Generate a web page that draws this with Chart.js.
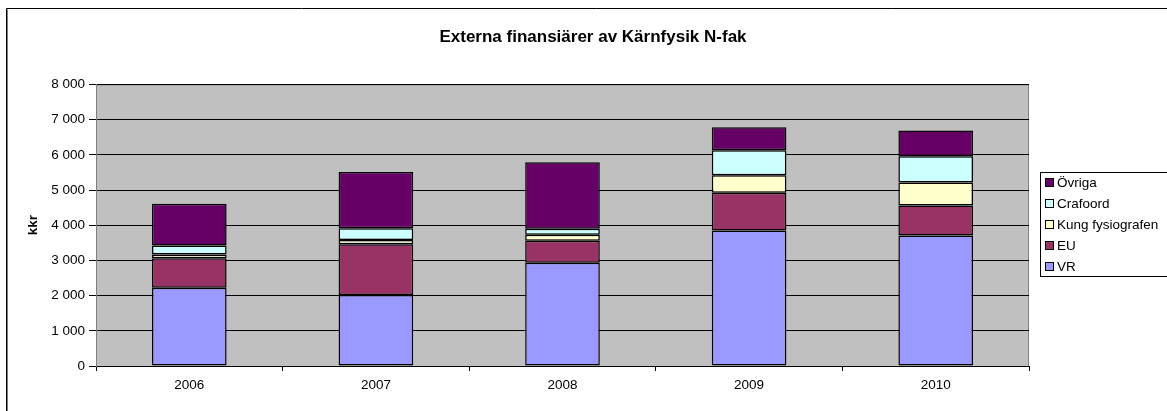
<!DOCTYPE html>
<html>
<head>
<meta charset="utf-8">
<script src="https://cdn.jsdelivr.net/npm/chart.js@4/dist/chart.umd.min.js"></script>
<style>
  html, body { margin: 0; padding: 0; background: #fff; overflow: hidden; }
  #wrap { position: absolute; left: 0; top: 0; width: 1186px; height: 411px; }
</style>
</head>
<body>
<div id="wrap"><canvas id="chart" width="1186" height="411"></canvas></div>
<script>
// data
var years = ['2006', '2007', '2008', '2009', '2010'];
var vr = [2220, 2020, 2930, 3850, 3710];
var eu = [840, 1440, 630, 1070, 850];
var kung = [110, 120, 170, 500, 650];
var crafoord = [250, 330, 170, 710, 750];
var ovriga = [1190, 1600, 1890, 650, 730];
var yMax = 8000;
var yStep = 1000;

var FONT = '"Liberation Sans", Arial, sans-serif';

// background of plot area + outer frame
var bgPlugin = {
    id: 'bg',
    afterLayout: function(chart) {
        // center the title over the whole frame, not just the plot
        var t = chart.titleBlock;
        if (t) { t.left = 0; t.right = chart.width; t.width = chart.width; }
    },
    beforeDraw: function(chart) {
        var c = chart.ctx, a = chart.chartArea;
        c.save();
        c.fillStyle = '#C0C0C0';
        c.fillRect(a.left, a.top, a.right - a.left, a.bottom - a.top);
        c.strokeStyle = '#808080';
        c.lineWidth = 1;
        c.strokeRect(a.left + 0.5, a.top + 0.5, a.right - a.left - 1, a.bottom - a.top);
        // outer frame
        c.strokeStyle = '#000';
        c.beginPath();
        c.moveTo(6.5, chart.height + 5);
        c.lineTo(6.5, 8.5);
        c.lineTo(chart.width + 5, 8.5);
        c.stroke();
        c.strokeStyle = '#808080';
        c.beginPath();
        c.moveTo(7.5, chart.height + 5);
        c.lineTo(7.5, 9.5);
        c.stroke();
        c.restore();
    }
};

// legend drawn from the datasets, reversed like the original
var legendPlugin = {
    id: 'boxLegend',
    afterDraw: function(chart) {
        var c = chart.ctx;
        var ds = chart.data.datasets.slice().reverse();
        var left = 1040.5, top = 172.5, bottom = 276.5;
        c.save();
        c.fillStyle = '#fff';
        c.fillRect(left, top, 200, bottom - top);
        c.strokeStyle = '#000';
        c.lineWidth = 1;
        c.strokeRect(left, top, 200, bottom - top);
        c.font = '13.5px ' + FONT;
        c.textBaseline = 'middle';
        ds.forEach(function(d, i) {
            var y = 183 + i * 21;
            c.fillStyle = d.backgroundColor;
            c.fillRect(1046, y - 4, 7, 7);
            c.strokeStyle = '#000';
            c.strokeRect(1045.5, y - 4.5, 8, 8);
            c.fillStyle = '#000';
            c.fillText(d.label, 1057, y);
        });
        c.restore();
    }
};

function mk(label, data, color) {
    return {
        label: label,
        data: data,
        backgroundColor: color,
        borderColor: '#000',
        borderWidth: 1.5,
        borderSkipped: false,
        barPercentage: 0.4,
        categoryPercentage: 1.0
    };
}

var ctx = document.getElementById('chart').getContext('2d');
new Chart(ctx, {
    type: 'bar',
    data: {
        labels: years,
        datasets: [
            mk('VR', vr, '#9999FF'),
            mk('EU', eu, '#993366'),
            mk('Kung fysiografen', kung, '#FFFFCC'),
            mk('Crafoord', crafoord, '#CCFFFF'),
            mk('Övriga', ovriga, '#660066')
        ]
    },
    options: {
        responsive: false,
        maintainAspectRatio: false,
        animation: false,
        layout: { padding: { left: 20, right: 157, top: 0, bottom: 0 } },
        plugins: {
            legend: { display: false },
            tooltip: { enabled: false },
            title: {
                display: true,
                text: 'Externa finansiärer av Kärnfysik N-fak',
                color: '#000',
                font: { family: FONT, size: 17, weight: 'bold' },
                padding: { top: 27, bottom: 37 }
            }
        },
        scales: {
            x: {
                stacked: true,
                grid: { offset: true, drawOnChartArea: false, color: '#000', tickLength: 5 },
                border: { color: '#000' },
                ticks: { color: '#000', font: { family: FONT, size: 13.5 }, padding: 6, maxRotation: 0 },
                afterFit: function(s) { s.height = 45; }
            },
            y: {
                stacked: true,
                min: 0,
                max: yMax,
                grid: { color: '#000', tickLength: 7 },
                border: { color: '#808080' },
                ticks: {
                    stepSize: yStep,
                    color: '#000',
                    font: { family: FONT, size: 13.5 },
                    padding: 4,
                    callback: function(v) { return String(v).replace(/\B(?=(\d{3})+(?!\d))/g, ' '); }
                },
                title: {
                    display: true,
                    text: 'kkr',
                    color: '#000',
                    font: { family: FONT, size: 13.5, weight: 'bold' },
                    padding: { top: 5, bottom: 0 }
                },
                afterFit: function(s) { s.width = 76; }
            }
        }
    },
    plugins: [bgPlugin, legendPlugin]
});
</script>
</body>
</html>
